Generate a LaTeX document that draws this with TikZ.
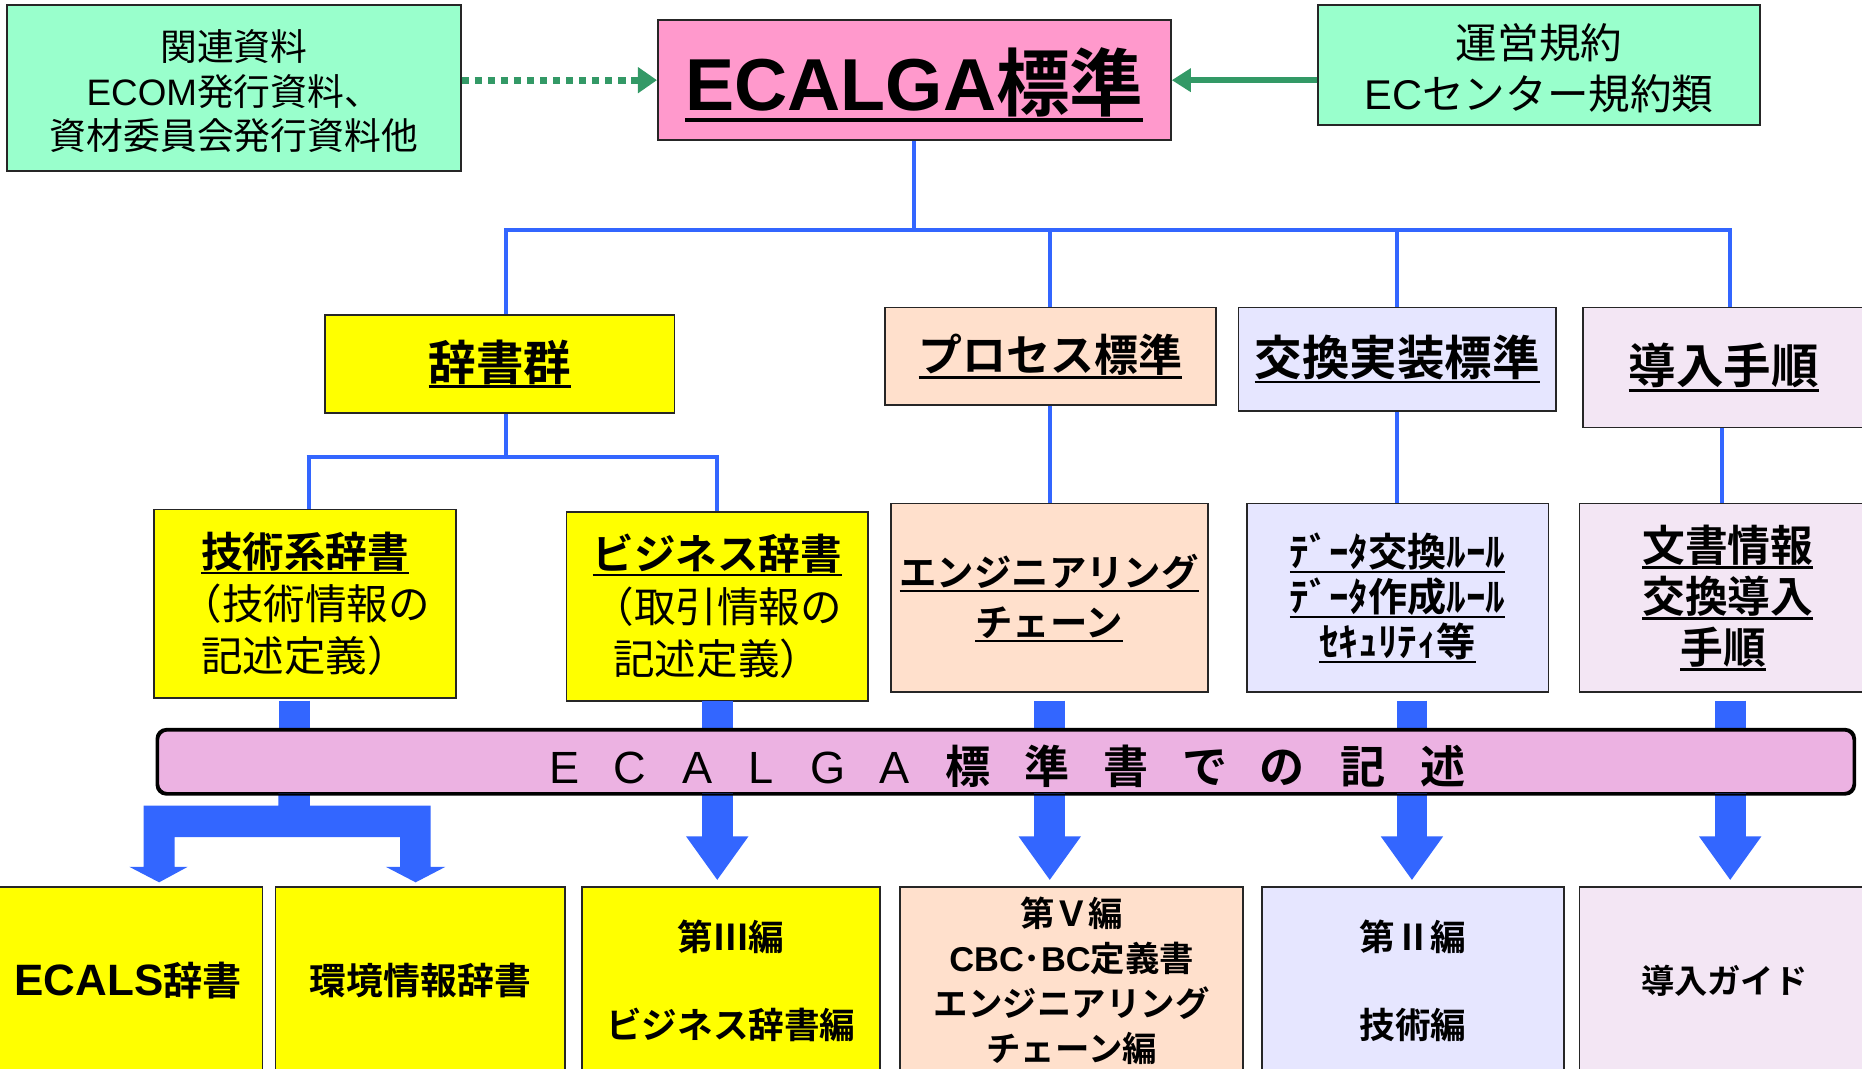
\documentclass[tikz,border=0pt]{standalone}
\usepackage{fontspec}
\setmainfont{Noto Sans CJK JP}[BoldFont={Noto Sans CJK JP Bold}]
\newfontfamily\lat{Liberation Sans}
\usetikzlibrary{arrows.meta,calc}
\definecolor{cgreen}{HTML}{99FFCC}
\definecolor{cpink}{HTML}{FF99CC}
\definecolor{cyel}{HTML}{FFFF00}
\definecolor{cpeach}{HTML}{FFE0CC}
\definecolor{clav}{HTML}{E6E6FF}
\definecolor{clil}{HTML}{F3E6F4}
\definecolor{cband}{HTML}{ECB2E2}
\definecolor{cblue}{HTML}{3366FF}
\definecolor{cdgreen}{HTML}{339966}
\newsavebox\ulbox
\newcommand\ul[1]{\sbox\ulbox{#1}\leavevmode\rlap{\rule[-0.16em]{\wd\ulbox}{0.055em}}\usebox\ulbox}
\newcommand\fs[2]{\fontsize{#1}{#2}\selectfont}
\newcommand\mylines[2]{\raisebox{#1}[\height][\depth]{\begin{tabular}{@{}c@{}}#2\end{tabular}}}
\newcommand\mydrop[2]{\raisebox{#1}[\height][\depth]{#2}}
\tikzset{
  box/.style={draw=black!85, line width=1.5pt, inner sep=0pt, align=center},
  thinblue/.style={draw=cblue, line width=3.5pt},
  stub/.style={draw=cblue, line width=26pt},
  bigarrow/.style={draw=cblue, line width=26pt, -{Triangle[width=50pt,length=37pt]}, shorten >=5pt},
  gdot/.style={draw=cdgreen, line width=6pt, dash pattern=on 6pt off 5pt, -{Triangle[width=21pt,length=16pt]}},
  gsolid/.style={draw=cdgreen, line width=5pt, -{Triangle[width=19pt,length=16pt]}},
  bandtxt/.style={font=\bfseries\fs{38}{38}, inner sep=0pt, anchor=base},
  bandlat/.style={font=\lat\fs{38}{38}, inner sep=0pt, anchor=base},
}
\begin{document}
\begin{tikzpicture}[x=1pt,y=-1pt]
\useasboundingbox (0,0) rectangle (1568,899.37);
% top row
\node[box,fill=cgreen,minimum width=382pt,minimum height=140pt,font=\fs{31}{37}] (rel) at (197,74)
  {\mylines{-7pt}{関連資料\\{\lat ECOM}発行資料、\\資材委員会発行資料他}};
\node[box,fill=cpink,minimum width=432pt,minimum height=101pt,font=\bfseries\fs{62}{70}] (ecalga) at (770,67.5)
  {\mydrop{-4pt}{\ul{{\lat ECALGA}標準}}};
\node[box,fill=cgreen,minimum width=372pt,minimum height=101pt,font=\fs{35}{43}] (op) at (1296,54.5)
  {\mylines{-7.5pt}{運営規約\\{\lat EC}センター規約類}};
% second row
\node[box,fill=cyel,minimum width=294pt,minimum height=83pt,font=\bfseries\fs{40}{40}] (jisho) at (421,306.5) {\ul{辞書群}};
\node[box,fill=cpeach,minimum width=279pt,minimum height=82pt,font=\bfseries\fs{37}{37}] (proc) at (884.5,300) {\ul{プロセス標準}};
\node[box,fill=clav,minimum width=267pt,minimum height=87pt,font=\bfseries\fs{40}{40}] (koukan) at (1176.5,302.5) {\ul{交換実装標準}};
\node[box,fill=clil,minimum width=247pt,minimum height=101pt,font=\bfseries\fs{40}{40}] (dounyu) at (1456.5,309.5) {\ul{導入手順}\hspace*{10pt}};
% third row
\node[box,fill=cyel,minimum width=254pt,minimum height=159pt,font=\fs{35}{44}] (gijutsu) at (257,508.5)
  {\textbf{\ul{技術系辞書}}\\（技術情報の\\記述定義）};
\node[box,fill=cyel,minimum width=254pt,minimum height=159pt,font=\fs{35}{44}] (biz) at (604,510.5)
  {\textbf{\ul{ビジネス辞書}}\\（取引情報の\\記述定義）};
\node[box,fill=cpeach,minimum width=267pt,minimum height=159pt,font=\bfseries\fs{31.5}{42}] (eng) at (883.5,503.5)
  {\ul{エンジニアリング}\\\ul{チェーン}};
\node[box,fill=clav,minimum width=254pt,minimum height=159pt,font=\bfseries\fs{33}{38}] (data) at (1177,503.5)
  {\ul{ﾃﾞｰﾀ交換ﾙｰﾙ}\\\ul{ﾃﾞｰﾀ作成ﾙｰﾙ}\\\ul{ｾｷｭﾘﾃｨ等}};
\node[box,fill=clil,minimum width=250pt,minimum height=159pt,font=\bfseries\fs{36}{43}] (bunsho) at (1455,503.5)
  {\ul{文書情報}\\\ul{交換導入}\\\ul{手順}\hspace*{8pt}};
% bottom row
\node[box,fill=cyel,minimum width=226pt,minimum height=158pt,font=\bfseries\fs{33}{33}] (ecals) at (108,826)
  {{\lat\fs{37}{37}ECALS}辞書};
\node[box,fill=cyel,minimum width=244pt,minimum height=158pt,font=\bfseries\fs{31}{31}] (kankyo) at (354,826) {環境情報辞書};
\node[box,fill=cyel,minimum width=251pt,minimum height=158pt,font=\bfseries\fs{30}{74}] (b3) at (615.5,826) {第Ⅲ編\\ビジネス辞書編};
\node[box,fill=cpeach,minimum width=289pt,minimum height=158pt,font=\bfseries\fs{29}{38}] (b5) at (902.5,826)
  {第Ｖ編\\{\lat CBC}･{\lat BC}定義書\\エンジニアリング\\チェーン編};
\node[box,fill=clav,minimum width=254pt,minimum height=158pt,font=\bfseries\fs{30}{74}] (b2) at (1190,826) {第Ⅱ編\\技術編};
\node[box,fill=clil,minimum width=250pt,minimum height=158pt,font=\bfseries\fs{28}{28}] (guide) at (1455,826) {導入ガイド\hspace*{6pt}};
% green arrows
\draw[gdot] ([yshift=6.5pt]rel.east) -- (ecalga.west);
\draw[gsolid] ([yshift=-13pt]op.west) -- (ecalga.east);
% thin blue tree
\coordinate (busL) at (426,194);
\coordinate (busR) at (1457,194);
\draw[thinblue] (ecalga.south) -- (ecalga.south |- busL);
\draw[thinblue] ([xshift=-1.75pt]busL) -- ([xshift=1.75pt]busR);
\draw[thinblue] (busL) -- (busL |- jisho.north);
\draw[thinblue] (proc.north |- busL) -- (proc.north);
\draw[thinblue] (koukan.north |- busL) -- (koukan.north);
\draw[thinblue] (busR) -- (busR |- dounyu.north);
\coordinate (sbL) at (260,385);
\coordinate (sbR) at (604,385);
\draw[thinblue] (busL |- jisho.south) -- (busL |- sbL);
\draw[thinblue] ([xshift=-1.75pt]sbL) -- ([xshift=1.75pt]sbR);
\draw[thinblue] (sbL) -- (sbL |- gijutsu.north);
\draw[thinblue] (sbR) -- (sbR |- biz.north);
\draw[thinblue] (proc.south) -- (proc.south |- eng.north);
\draw[thinblue] (koukan.south) -- (koukan.south |- data.north);
\coordinate (dl) at (1450,0);
\draw[thinblue] (dl |- dounyu.south) -- (dl |- bunsho.north);
% band
\node[draw=black, line width=2pt, fill=cband, rounded corners=8pt, minimum width=1428pt, minimum height=53pt, inner sep=0pt] (band) at (847,641.5) {};
% thick stubs above band
\coordinate (stubtop) at (0,590);
\foreach \x [count=\i] in {248,604,884,1189,1457}{
  \coordinate (st\i) at (\x,0);
  \draw[stub] (st\i |- stubtop) -- ([yshift=-1pt]st\i |- band.north);
}
% arrows below band
\draw[bigarrow] ([yshift=1pt]st2 |- band.south) -- (st2 |- b3.north);
\draw[bigarrow] ([yshift=1pt]st3 |- band.south) -- (st3 |- b5.north);
\draw[bigarrow] ([yshift=1pt]st4 |- band.south) -- (st4 |- b2.north);
\draw[bigarrow] ([yshift=1pt]st5 |- band.south) -- (st5 |- guide.north);
% fork arrow to ECALS / kankyo
\fill[cblue] (234.5,668) -- (261,668) -- (261,678.5) -- (362.6,678.5) -- (362.6,730) -- (375,730) -- (350,743)
  -- (325,730) -- (337,730) -- (337,705) -- (147,705) -- (147,730) -- (158,730) -- (134,743) -- (109,730)
  -- (121,730) -- (121,678.5) -- (234.5,678.5) -- cycle;
\draw[draw=black, line width=2pt, rounded corners=8pt] (band.south west) rectangle (band.north east);
% band text
\foreach \c/\x [count=\i] in {E/475,C/530,A/587,L/641,G/697,A/753}{
  \node[bandlat] (bl\i) at (\x,659.5) {\c};
}
\foreach \c/\x [count=\i] in {標/815,準/882,書/948,で/1015,の/1080,記/1148,述/1215}{
  \node[bandtxt] (bt\i) at (\x,659.5) {\c};
}
\end{tikzpicture}
\end{document}
